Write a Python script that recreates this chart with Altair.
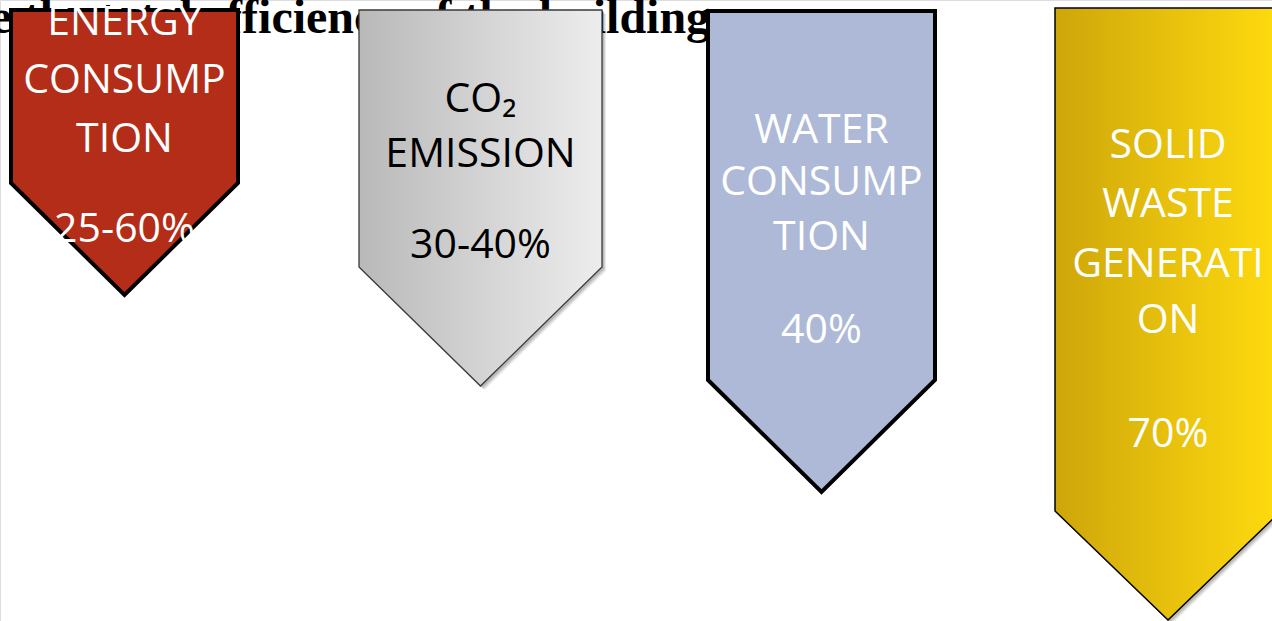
import altair as alt
import pandas as pd

# ---- box geometry (pixel units) ----
box_names = ["energy", "co2", "water", "waste"]
box_left = [11, 359, 708, 1055]
box_right = [238, 602, 935, 1281]
box_top = [10, 10, 11, 8]
box_side_bottom = [183, 267, 380, 511]
box_tip = [295, 386, 492, 620]
box_shadow = [False, True, False, True]

# ---- label lines ----
label_box = ["energy"] * 4 + ["co2"] * 3 + ["water"] * 4 + ["waste"] * 5
label_text = ["ENERGY", "CONSUMP", "TION", "25-60%",
              "CO₂", "EMISSION", "30-40%",
              "WATER", "CONSUMP", "TION", "40%",
              "SOLID", "WASTE", "GENERATI", "ON", "70%"]
label_y = [35, 93, 152, 242,
           112, 167, 258,
           143, 195, 250, 343,
           158, 217, 277, 333, 447]

title_text = "Improve the total efficiency of the building"

W, H = 1272, 621

rows = []
for n, l, r, t, sb, tp, sh in zip(box_names, box_left, box_right, box_top,
                                  box_side_bottom, box_tip, box_shadow):
    c = (l + r) / 2
    rows.append(dict(box=n, x=l, top=t, bottom=sb, shadow=sh))
    rows.append(dict(box=n, x=c, top=t, bottom=tp, shadow=sh))
    rows.append(dict(box=n, x=r, top=t, bottom=sb, shadow=sh))
boxes = pd.DataFrame(rows)

centers = {n: (l + r) / 2 for n, l, r in zip(box_names, box_left, box_right)}
text_colors = {"energy": "white", "co2": "black", "water": "white", "waste": "white"}
labels = pd.DataFrame(dict(box=label_box, text=label_text, y=label_y))
labels["x"] = labels["box"].map(centers)
labels["color"] = labels["box"].map(text_colors)

xs = alt.Scale(domain=[0, W], nice=False, zero=False)
ys = alt.Scale(domain=[0, H], nice=False, zero=False, reverse=True)

title = alt.Chart(pd.DataFrame(dict(x=[-163.6], y=[33], t=[title_text]))).mark_text(
    font="Liberation Serif", fontWeight="bold", fontSize=48, align="left",
    baseline="alphabetic", color="black"
).encode(x=alt.X("x:Q", scale=xs, axis=None), y=alt.Y("y:Q", scale=ys, axis=None), text="t:N")

styles = {
    "energy": dict(color="#b32d18", stroke="black", strokeWidth=4),
    "co2": dict(color=alt.Gradient(gradient="linear", x1=0, x2=1, y1=0, y2=0,
                                   stops=[alt.GradientStop(color="#b9b9b9", offset=0),
                                          alt.GradientStop(color="#ededed", offset=1)]),
                stroke="#3a3a3a", strokeWidth=1.3),
    "water": dict(color="#adb9d6", stroke="black", strokeWidth=4),
    "waste": dict(color=alt.Gradient(gradient="linear", x1=0, x2=1, y1=0, y2=0,
                                     stops=[alt.GradientStop(color="#cea60a", offset=0),
                                            alt.GradientStop(color="#ffdb0f", offset=1)]),
                  stroke="black", strokeWidth=1.5),
}

layers = [title]

# soft drop shadows (offset copies of the shaded boxes)
for off, op in [(4, 0.08), (3, 0.1), (2, 0.12)]:
    for n in box_names:
        if not dict(zip(box_names, box_shadow))[n]:
            continue
        layers.append(
            alt.Chart(boxes).transform_filter(alt.datum.box == n).transform_calculate(
                sx=alt.datum.x + off, sb=alt.datum.bottom + off, st=alt.datum.top + off
            ).mark_area(color="black", opacity=op, orient="vertical").encode(
                x=alt.X("sx:Q", scale=xs, axis=None),
                y=alt.Y("sb:Q", scale=ys, axis=None, stack=None),
                y2="st:Q",
            )
        )

for n in box_names:
    st = styles[n]
    layers.append(
        alt.Chart(boxes).transform_filter(alt.datum.box == n).mark_area(
            opacity=1, strokeJoin="miter", orient="vertical", **st
        ).encode(
            x=alt.X("x:Q", scale=xs, axis=None),
            y=alt.Y("bottom:Q", scale=ys, axis=None, stack=None),
            y2="top:Q",
        )
    )

text_layer = alt.Chart(labels).mark_text(
    font="Open Sans", fontSize=41, align="center", baseline="alphabetic"
).encode(
    x=alt.X("x:Q", scale=xs, axis=None),
    y=alt.Y("y:Q", scale=ys, axis=None),
    text="text:N",
    color=alt.Color("color:N", scale=None),
)
layers.append(text_layer)

chart = alt.layer(*layers).properties(
    width=W, height=H, padding=0, autosize=alt.AutoSizeParams(type="none")
).configure_view(stroke=None).configure(background="white")

chart.save("out.html", embed_options={"renderer": "svg", "actions": False})
